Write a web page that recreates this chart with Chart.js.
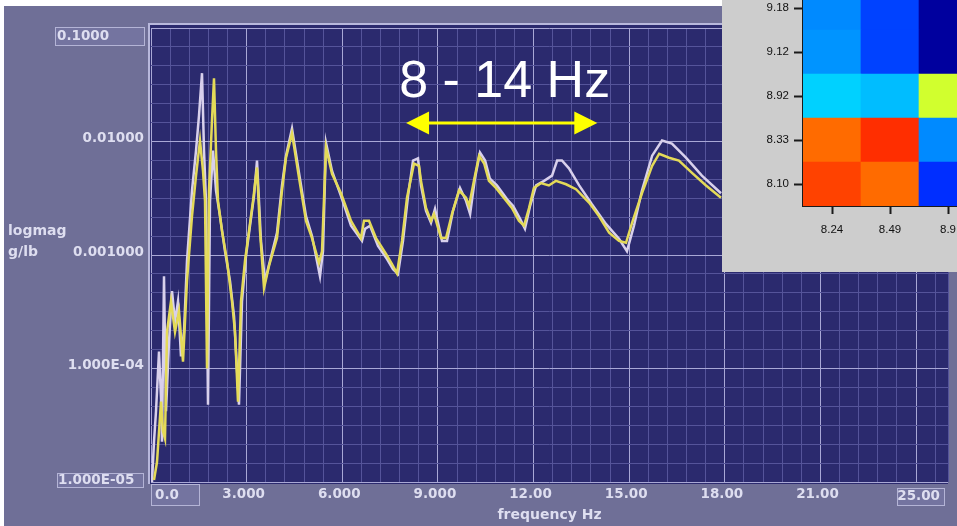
<!DOCTYPE html>
<html>
<head>
<meta charset="utf-8">
<title>logmag vs frequency</title>
<script src="https://cdn.jsdelivr.net/npm/chart.js@4.4.1/dist/chart.umd.min.js"></script>
<style>
  html, body { margin: 0; padding: 0; background: #6f6f97; }
  #wrap { position: relative; width: 957px; height: 526px; overflow: hidden; }
  #main { position: absolute; left: 0; top: 0; }
  #inset { position: absolute; left: 722px; top: 0; width: 235px; height: 272px; overflow: hidden; background: #cdcdcd; }
  #heat { position: absolute; left: 0; top: -27px; }
</style>
</head>
<body>
<div id="wrap">
  <canvas id="main" width="957" height="526"></canvas>
  <div id="inset"><canvas id="heat" width="300" height="299"></canvas></div>
</div>
<script>
// ---- spectrum traces (frequency in Hz, magnitude in g/lb) ----
const freqYellow = [0.094,0.188,0.314,0.376,0.439,0.502,0.627,0.753,0.878,1.004,
  1.129,1.286,1.412,1.537,1.631,1.694,1.757,1.819,1.913,1.976,
  2.039,2.102,2.227,2.384,2.541,2.635,2.729,2.823,2.949,3.074,
  3.200,3.325,3.419,3.545,3.701,3.952,4.109,4.235,4.423,4.642,
  4.862,5.050,5.270,5.364,5.489,5.678,5.960,6.274,6.587,6.681,
  6.838,7.058,7.371,7.560,7.716,7.873,8.030,8.250,8.407,8.469,
  8.626,8.783,8.877,9.097,9.254,9.442,9.661,9.881,9.975,10.13,
  10.29,10.45,10.60,10.82,11.14,11.32,11.54,11.70,11.86,12.01,
  12.23,12.48,12.70,13.02,13.33,13.74,14.05,14.37,14.68,14.90,
  15.09,15.40,15.72,15.94,16.25,16.56,16.97,17.41,17.88];
const magYellow = [1.04e-5,1.5e-5,5.1e-5,2.8e-5,2.4e-5,2.1e-4,3.9e-4,2.1e-4,3.2e-4,1.15e-4,
  5.9e-4,2.2e-3,5.0e-3,1.02e-2,5.5e-3,3.0e-3,1.0e-4,3.7e-3,1.53e-2,3.6e-2,
  8.3e-3,3.0e-3,1.63e-3,8.9e-4,3.9e-4,2.1e-4,5.1e-5,3.9e-4,8.9e-4,1.63e-3,
  3.0e-3,5.9e-3,1.63e-3,5.1e-4,8.0e-4,1.41e-3,3.7e-3,7.2e-3,1.18e-2,4.8e-3,
  2.0e-3,1.41e-3,8.5e-4,1.08e-3,8.9e-3,5.2e-3,3.5e-3,2.0e-3,1.41e-3,2.0e-3,
  2.0e-3,1.41e-3,1.02e-3,8.3e-4,6.9e-4,1.33e-3,3.2e-3,6.4e-3,6.1e-3,4.5e-3,
  2.6e-3,2.0e-3,2.3e-3,1.41e-3,1.41e-3,2.3e-3,3.7e-3,3.2e-3,2.7e-3,4.5e-3,
  7.5e-3,6.4e-3,4.5e-3,3.9e-3,3.0e-3,2.6e-3,2.0e-3,1.81e-3,2.6e-3,3.9e-3,
  4.3e-3,4.1e-3,4.5e-3,4.2e-3,3.8e-3,2.9e-3,2.2e-3,1.57e-3,1.33e-3,1.28e-3,
  1.92e-3,3.5e-3,6.1e-3,7.8e-3,7.2e-3,6.8e-3,5.3e-3,4.1e-3,3.2e-3];

const freqWhite = [0.031,0.094,0.157,0.251,0.314,0.345,0.408,0.471,0.565,0.659,
  0.753,0.847,0.941,1.035,1.129,1.286,1.412,1.506,1.600,1.663,
  1.725,1.788,1.851,1.945,2.039,2.164,2.321,2.478,2.604,2.666,
  2.760,2.854,2.980,3.105,3.231,3.325,3.450,3.576,3.733,3.952,
  4.109,4.235,4.423,4.642,4.862,5.050,5.301,5.395,5.489,5.678,
  5.960,6.274,6.619,6.713,6.870,7.121,7.403,7.591,7.748,7.905,
  8.062,8.219,8.375,8.469,8.626,8.783,8.909,9.128,9.285,9.473,
  9.693,9.881,10.01,10.16,10.32,10.48,10.63,10.85,11.17,11.36,
  11.57,11.73,11.89,12.08,12.33,12.58,12.74,12.89,13.11,13.43,
  13.83,14.27,14.68,14.93,15.15,15.40,15.72,16.03,16.34,16.78,
  17.28,17.88];
const magWhite = [1.0e-5,2.26e-5,4.2e-5,1.41e-4,5.6e-5,2.26e-5,6.5e-4,4.2e-5,1.73e-4,4.8e-4,
  2.6e-4,3.9e-4,1.28e-4,2.1e-4,8.9e-4,3.7e-3,8.3e-3,1.70e-2,4.0e-2,8.3e-3,
  3.0e-3,4.8e-5,3.0e-3,8.3e-3,3.7e-3,2.2e-3,1.08e-3,5.9e-4,2.9e-4,1.41e-4,
  4.8e-5,3.9e-4,9.8e-4,1.81e-3,3.3e-3,6.8e-3,1.33e-3,5.9e-4,8.9e-4,1.57e-3,
  4.1e-3,7.5e-3,1.30e-2,5.3e-3,2.2e-3,1.47e-3,6.5e-4,1.08e-3,9.8e-3,5.5e-3,
  3.3e-3,1.81e-3,1.33e-3,1.70e-3,1.81e-3,1.20e-3,9.2e-4,7.5e-4,6.8e-4,1.33e-3,
  3.3e-3,6.8e-3,7.1e-3,4.1e-3,2.45e-3,1.92e-3,2.55e-3,1.33e-3,1.33e-3,2.45e-3,
  3.9e-3,3.0e-3,2.3e-3,4.7e-3,8.0e-3,6.8e-3,4.7e-3,4.1e-3,3.1e-3,2.7e-3,
  2.1e-3,1.70e-3,2.7e-3,4.1e-3,4.5e-3,5.0e-3,6.8e-3,6.8e-3,5.8e-3,4.1e-3,
  2.8e-3,1.88e-3,1.39e-3,1.08e-3,1.81e-3,3.7e-3,7.5e-3,1.02e-2,9.6e-3,7.2e-3,
  5.0e-3,3.5e-3];

// ---- axis ticks ----
const xTickValues = [0, 3, 6, 9, 12, 15, 18, 21, 25];
const xTickLabels = ['0.0', '3.000', '6.000', '9.000', '12.00', '15.00', '18.00', '21.00', '25.00'];
const yTickValues = [1e-5, 1e-4, 1e-3, 1e-2, 1e-1];
const yTickLabels = ['1.000E-05', '1.000E-04', '0.001000', '0.01000', '0.1000'];
const xGridStep = 0.6;       // fine grid spacing in Hz
const yGridPerDecade = 6;    // fine grid lines per decade

// highlighted band
const bandStart = 8;
const bandEnd = 14;

// ---- inset map ----
const heatRows = ['8.10', '8.33', '8.92', '9.12', '9.18'];   // bottom to top
const heatCols = ['8.24', '8.49', '8.9'];
const heatLevels = [
  [0.81, 0.77, 0.17],
  [0.77, 0.83, 0.26],
  [0.33, 0.31, 0.58],
  [0.27, 0.19, 0.03],
  [0.26, 0.19, 0.03]
];

// ---- styling ----
const frameColor = '#6f6f97';
const plotColor = '#2b2a6e';
const minorGrid = '#55549a';
const majorGrid = '#a9a8d6';
const labelColor = '#dedef0';
const labelFont = { family: 'DejaVu Sans', size: 13.5, weight: 'bold' };

const xMin = xTickValues[0], xMax = xTickValues[xTickValues.length - 1];
const yMin = yTickValues[0], yMax = yTickValues[yTickValues.length - 1];

function pairs(xs, ys) { return xs.map((x, i) => ({ x: x, y: ys[i] })); }

function isMultiple(v, step) { const r = v / step; return Math.abs(r - Math.round(r)) < 1e-6; }

function boxedLabel(ctx, text, bx, by, bw, bh, tx, ty, align) {
  ctx.save();
  ctx.fillStyle = '#7474a0';
  ctx.fillRect(bx, by, bw, bh);
  ctx.strokeStyle = '#b4b4d6';
  ctx.lineWidth = 1;
  ctx.strokeRect(bx + 0.5, by + 0.5, bw - 1, bh - 1);
  ctx.fillStyle = labelColor;
  ctx.font = 'bold 13.5px "DejaVu Sans"';
  ctx.textAlign = align;
  ctx.textBaseline = 'middle';
  ctx.fillText(text, tx, ty);
  ctx.restore();
}

const framePlugin = {
  id: 'frame',
  beforeDraw(chart) {
    const ctx = chart.ctx, ca = chart.chartArea;
    ctx.save();
    ctx.fillStyle = frameColor;
    ctx.fillRect(0, 0, chart.width, chart.height);
    ctx.fillStyle = '#ffffff';
    ctx.fillRect(0, 0, chart.width, 6);
    ctx.fillRect(0, 0, 4, chart.height);
    ctx.fillStyle = plotColor;
    ctx.fillRect(ca.left - 2, ca.top - 5, ca.right - ca.left + 2, ca.bottom - ca.top + 7);
    ctx.strokeStyle = '#b8b8dc';
    ctx.lineWidth = 2;
    ctx.beginPath();
    ctx.moveTo(ca.left - 2, ca.bottom + 2);
    ctx.lineTo(ca.left - 2, ca.top - 4);
    ctx.lineTo(ca.right, ca.top - 4);
    ctx.stroke();
    ctx.restore();
  },
  afterDraw(chart) {
    const ctx = chart.ctx, ca = chart.chartArea;
    const xs = chart.scales.x, ys = chart.scales.y;

    // end labels sit in small boxes, aligned inward
    const yTop = ys.getPixelForValue(yMax), yBot = ys.getPixelForValue(yMin);
    boxedLabel(ctx, yTickLabels[yTickLabels.length - 1], 55, yTop - 1, 90, 19, 57, yTop + 8, 'left');
    boxedLabel(ctx, yTickLabels[0], 57, yBot - 9, 87, 15, 58, yBot - 2, 'left');
    const xL = xs.getPixelForValue(xMin), xR = xs.getPixelForValue(xMax);
    boxedLabel(ctx, xTickLabels[0], xL, ca.bottom + 2, 49, 22, xL + 4, ca.bottom + 13, 'left');
    boxedLabel(ctx, xTickLabels[xTickLabels.length - 1], xR - 51, ca.bottom + 6, 48, 18, xR - 8, ca.bottom + 14, 'right');

    // y axis title, written horizontally
    ctx.save();
    ctx.fillStyle = labelColor;
    ctx.font = 'bold 14px "DejaVu Sans"';
    ctx.textAlign = 'left';
    ctx.textBaseline = 'alphabetic';
    ctx.fillText('logmag', 8, 235);
    ctx.fillText('g/lb', 8, 256);
    ctx.restore();

    // frequency band marker
    const x1 = xs.getPixelForValue(bandStart), x2 = xs.getPixelForValue(bandEnd);
    const yA = ca.top + 95, head = 23, half = 11.5;
    ctx.save();
    ctx.strokeStyle = '#ffff00';
    ctx.fillStyle = '#ffff00';
    ctx.lineWidth = 3;
    ctx.beginPath();
    ctx.moveTo(x1 + head - 2, yA);
    ctx.lineTo(x2 - head + 2, yA);
    ctx.stroke();
    ctx.beginPath();
    ctx.moveTo(x1, yA); ctx.lineTo(x1 + head, yA - half); ctx.lineTo(x1 + head, yA + half); ctx.closePath();
    ctx.fill();
    ctx.beginPath();
    ctx.moveTo(x2, yA); ctx.lineTo(x2 - head, yA - half); ctx.lineTo(x2 - head, yA + half); ctx.closePath();
    ctx.fill();
    ctx.fillStyle = '#ffffff';
    ctx.font = '52px "Liberation Sans"';
    ctx.textAlign = 'center';
    ctx.textBaseline = 'alphabetic';
    ctx.fillText(bandStart + ' - ' + bandEnd + ' Hz', (x1 + x2) / 2 + 3, ca.top + 69);
    ctx.restore();
  }
};

new Chart(document.getElementById('main'), {
  type: 'line',
  data: {
    datasets: [
      { label: 'run A', data: pairs(freqYellow, magYellow), borderColor: '#e4da58', borderWidth: 2.5,
        pointRadius: 0, tension: 0 },
      { label: 'run B', data: pairs(freqWhite, magWhite), borderColor: '#d8d0ec', borderWidth: 2.5,
        pointRadius: 0, tension: 0 }
    ]
  },
  options: {
    responsive: false,
    animation: false,
    devicePixelRatio: 1,
    layout: { padding: { left: 0, top: 28, right: 9, bottom: 0 } },
    plugins: { legend: { display: false }, tooltip: { enabled: false } },
    scales: {
      x: {
        type: 'linear', min: xMin, max: xMax,
        afterFit(s) { s.height = 44; },
        afterBuildTicks(s) {
          const t = [];
          for (let i = 0; i * xGridStep < xMax - 1e-9; i++) t.push({ value: +(i * xGridStep).toFixed(4) });
          t.push({ value: xMax });
          s.ticks = t;
        },
        ticks: {
          autoSkip: false, maxRotation: 0, minRotation: 0, padding: 4, labelOffset: -3,
          color: labelColor, font: labelFont,
          callback(value) {
            const k = xTickValues.findIndex(v => Math.abs(v - value) < 1e-6);
            if (k <= 0 || k === xTickValues.length - 1) return '';
            return xTickLabels[k];
          }
        },
        grid: {
          drawTicks: false, lineWidth: 1,
          color(c) {
            const v = c.tick ? c.tick.value : NaN;
            return (isMultiple(v, 3) && v < xMax) ? majorGrid : minorGrid;
          }
        },
        border: { display: false },
        title: { display: true, text: 'frequency Hz', color: labelColor,
          font: { family: 'DejaVu Sans', size: 14, weight: 'bold' }, padding: { top: 0, bottom: 2 } }
      },
      y: {
        type: 'logarithmic', min: yMin, max: yMax,
        afterFit(s) { s.width = 151; },
        afterBuildTicks(s) {
          const lo = Math.log10(yMin), hi = Math.log10(yMax);
          const n = Math.round((hi - lo) * yGridPerDecade);
          const t = [];
          for (let i = 0; i <= n; i++) t.push({ value: Math.pow(10, lo + i / yGridPerDecade) });
          s.ticks = t;
        },
        ticks: {
          autoSkip: false, padding: 7, labelOffset: -3,
          color: labelColor, font: labelFont,
          callback(value, index) {
            if (index % yGridPerDecade !== 0) return '';
            const k = index / yGridPerDecade;
            if (k === 0 || k === yTickLabels.length - 1) return '';
            return yTickLabels[k];
          }
        },
        grid: {
          drawTicks: false, lineWidth: 1,
          color(c) { return (c.index % yGridPerDecade === 0) ? majorGrid : minorGrid; }
        },
        border: { display: false }
      }
    }
  },
  plugins: [framePlugin]
});

// ---- inset colour map ----
function jet(t) {
  const c = x => Math.round(255 * Math.max(0, Math.min(1, x)));
  return 'rgb(' + c(1.5 - Math.abs(4 * t - 3)) + ',' + c(1.5 - Math.abs(4 * t - 2)) + ',' + c(1.5 - Math.abs(4 * t - 1)) + ')';
}

const axisInk = '#1a1a1a';
const insetFont = { family: 'Liberation Sans', size: 11.5 };

new Chart(document.getElementById('heat'), {
  type: 'bar',
  data: {
    labels: heatCols,
    datasets: heatRows.map((row, k) => ({
      label: row,
      data: heatCols.map(() => 1),
      backgroundColor: heatLevels[k].map(jet),
      borderWidth: 0,
      barPercentage: 1,
      categoryPercentage: 1
    }))
  },
  options: {
    responsive: false,
    animation: false,
    devicePixelRatio: 1,
    layout: { padding: { left: 0, top: 13, right: 45, bottom: 0 } },
    plugins: { legend: { display: false }, tooltip: { enabled: false } },
    scales: {
      x: {
        stacked: true,
        afterFit(s) { s.height = 66; },
        grid: { offset: false, drawOnChartArea: false, drawTicks: true, tickLength: 8, tickColor: axisInk, tickWidth: 2 },
        border: { display: true, color: axisInk, width: 2 },
        ticks: { color: '#111', font: insetFont, padding: 9, maxRotation: 0, autoSkip: false }
      },
      y: {
        stacked: true, min: 0, max: heatRows.length,
        afterFit(s) { s.width = 81; },
        afterBuildTicks(s) { s.ticks = heatRows.map((_, k) => ({ value: k + 0.5 })); },
        grid: { drawOnChartArea: false, drawTicks: true, tickLength: 9, tickColor: axisInk, tickWidth: 2 },
        border: { display: true, color: axisInk, width: 2 },
        ticks: { color: '#111', font: insetFont, padding: 5, autoSkip: false,
          callback(value) { return heatRows[Math.floor(value)]; } }
      }
    }
  }
});
</script>
</body>
</html>
